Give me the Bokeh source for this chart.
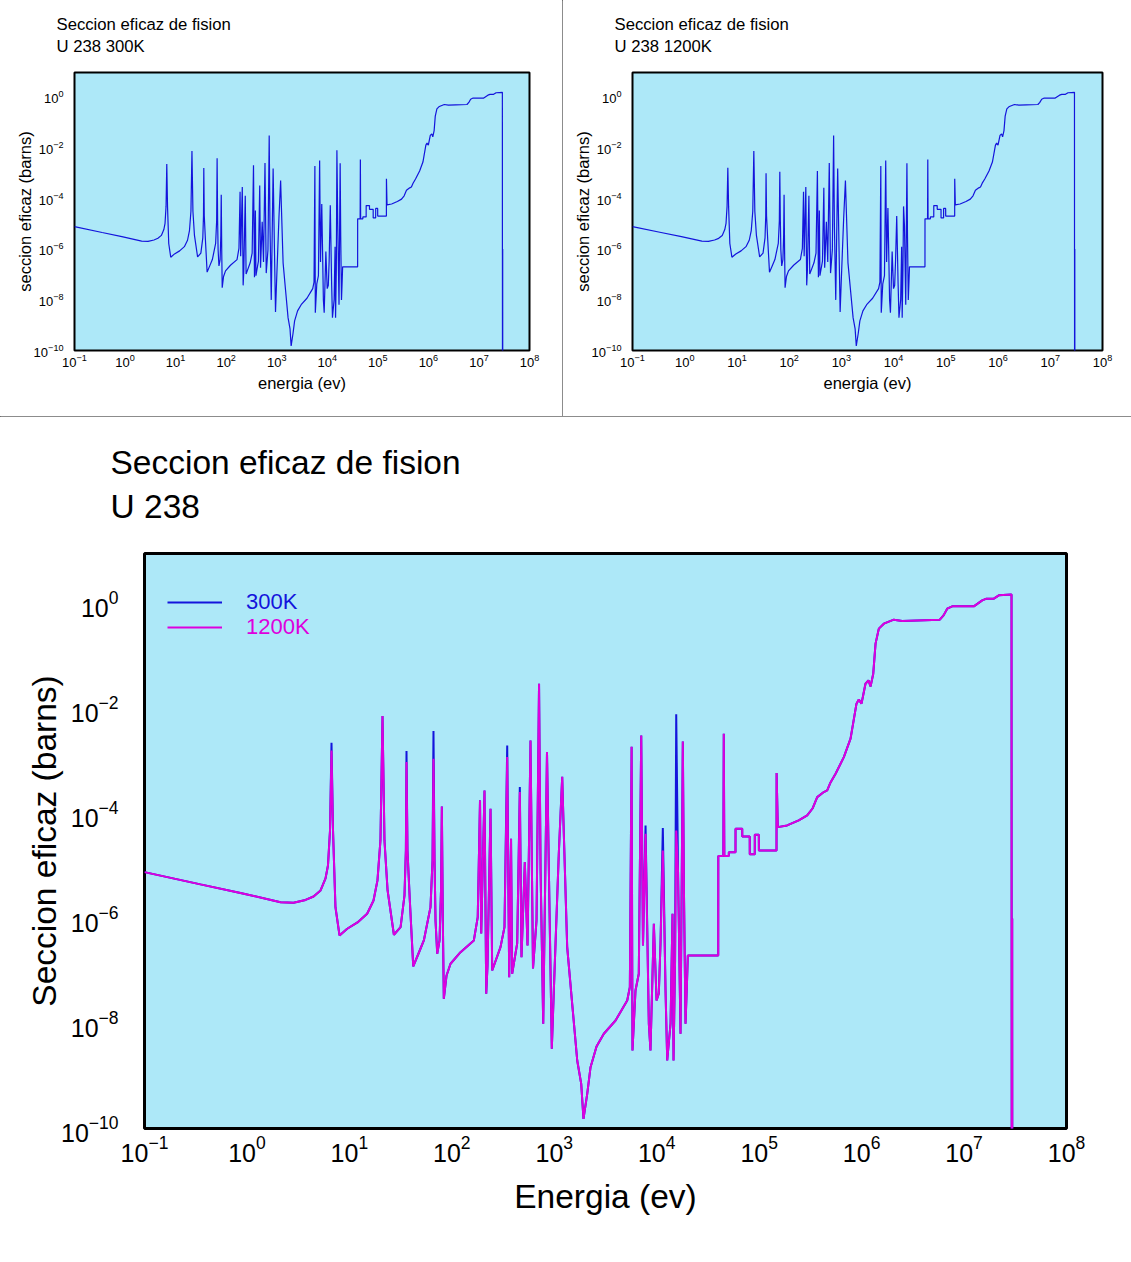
from bokeh.plotting import figure
from bokeh.layouts import column, row
from bokeh.models import FixedTicker, Range1d, Legend, LegendItem
from bokeh.embed import file_html
from bokeh.resources import INLINE

# ---- data: U-238 fission cross section (energy in eV, sigma in barns) ----
energy = [
    0.1, 0.352, 0.865, 2.13, 2.85, 3.73, 4.47, 5.23, 5.85, 6.18, 6.47, 6.69, 6.92, 7.31, 8.01, 9.52,
    12.0, 14.9, 17.2, 18.8, 20.1, 21.05, 22.0, 23.6, 27.2, 31.6, 34.5, 35.6, 36.1, 36.9, 38.9,
    42.0, 47.3, 53.3, 61.9, 64.8, 66.2, 67.8, 69.3, 72.0, 75.9, 78.4, 79.9, 81.7, 83.5, 88.8, 97.1,
    121.6, 164, 179, 188.4, 193.6, 208.4, 216.6, 223, 238.6, 247.7, 298.5, 326.6, 347.2, 363,
    378.4, 388, 434.5, 461, 478.6, 515.8, 548, 586, 620, 671, 710, 735, 780, 812, 849, 889, 946,
    990, 1107, 1195, 1239, 1337, 1496, 1675, 1832, 1928, 2097, 2259, 2585, 3046, 3963, 5152, 5465,
    5686, 5800, 6205, 6683, 7060, 7345, 7780, 8375, 8690, 9376, 9960, 10480, 10890, 11470, 12190,
    12660, 13650, 14260, 14590, 15100, 15500, 16140, 17070, 17980, 18450, 19100, 19700, 20120,
    39850, 39900, 44670, 45140, 45700, 50570, 50600, 58750, 58800, 68320, 68400, 80900, 81000,
    90600, 90700, 99230, 99400, 147700, 148000, 152000, 187300, 243200, 294300, 331700, 368700,
    427600, 461400, 497400, 556800, 670700, 779700, 891300, 939300, 997700, 1.091e6, 1.167e6,
    1.222e6, 1.299e6, 1.368e6, 1.473e6, 1.648e6, 2.063e6, 2.492e6, 3.49e6, 5.80e6, 6.31e6, 6.85e6,
    7.66e6, 1.245e7, 1.504e7, 1.656e7, 1.953e7, 2.186e7, 2.906e7, 2.92e7, 2.95e7, 2.951e7, 2.96e7,
]

sigma_300K = [
    7.62e-6, 4.45e-6, 3.06e-6, 2.04e-6, 1.99e-6, 2.25e-6, 2.62e-6, 3.41e-6, 5.78e-6, 1.02e-5, 4.74e-5, 2.22e-3, 4.74e-5, 1.64e-6, 4.74e-7, 6.37e-7,
    8.40e-7, 1.23e-6, 2.20e-6, 5.30e-6, 3.06e-5, 7.13e-3, 3.06e-5, 3.41e-6, 4.89e-7, 6.82e-7, 2.74e-6, 1.97e-5, 1.54e-3, 1.97e-5, 2.20e-6,
    1.22e-7, 2.15e-7, 3.81e-7, 1.64e-6, 1.27e-5, 3.70e-3, 1.27e-5, 9.16e-7, 2.13e-7, 3.81e-7, 3.41e-6, 1.36e-4, 9.16e-7, 2.95e-8, 8.20e-8, 1.37e-7,
    2.28e-7, 3.81e-7, 1.06e-6, 1.77e-4, 5.18e-7, 2.74e-4, 3.68e-8, 1.27e-7, 1.23e-4, 1.02e-7, 2.84e-7, 6.82e-7, 1.97e-3, 7.62e-8,
    3.30e-5, 8.85e-8, 3.34e-7, 3.17e-4, 1.83e-7, 1.18e-5, 3.06e-7, 2.45e-3, 1.12e-7, 9.16e-7, 2.93e-2, 8.20e-6, 9.86e-9, 2.99e-6, 1.47e-3, 5.30e-6, 3.30e-9,
    4.25e-8, 1.73e-5, 5.00e-4, 4.16e-5, 2.84e-7, 2.37e-8, 1.97e-9, 7.10e-10, 1.52e-10, 4.58e-10, 1.47e-9, 3.65e-9, 6.37e-9, 1.14e-8, 2.74e-8, 4.91e-8,
    1.85e-3, 3.06e-9, 4.25e-8, 8.85e-8, 3.06e-3, 3.06e-7, 5.90e-5, 9.86e-9, 3.06e-9, 7.92e-7, 2.74e-8, 3.72e-8, 3.34e-7, 5.25e-5, 4.25e-8,
    1.97e-9, 1.0e-8, 1.23e-6, 1.97e-9, 1.58e-7, 7.69e-3, 8.20e-6, 6.37e-9, 2.35e-3, 2.99e-6, 9.86e-9, 5.30e-8, 1.97e-7,
    1.97e-7, 1.54e-5, 1.54e-5, 3.30e-3, 1.54e-5, 1.54e-5, 1.83e-5, 1.83e-5, 5.12e-5, 5.12e-5, 3.65e-5, 3.65e-5, 1.66e-5,
    1.66e-5, 3.93e-5, 3.93e-5, 1.97e-5, 1.97e-5, 5.86e-4, 5.48e-5, 5.90e-5, 7.36e-5, 9.16e-5, 1.24e-4, 2.04e-4,
    2.55e-4, 2.74e-4, 3.89e-4, 5.70e-4, 1.18e-3, 2.65e-3, 1.23e-2, 1.47e-2, 1.23e-2, 2.95e-2, 3.41e-2,
    2.62e-2, 4.58e-2, 0.171, 0.330, 0.410, 0.489, 0.460, 0.474, 0.489, 0.590, 0.792,
    0.877, 0.877, 1.14, 1.23, 1.23, 1.42, 1.47, 1e-12, 1.0e-6, 2.74e-8, 1e-12,
]

sigma_1200K = [
    7.62e-6, 4.45e-6, 3.06e-6, 2.04e-6, 1.99e-6, 2.25e-6, 2.62e-6, 3.41e-6, 5.78e-6, 1.02e-5, 4.74e-5, 1.58e-3, 4.74e-5, 1.64e-6, 4.74e-7, 6.37e-7,
    8.40e-7, 1.23e-6, 2.20e-6, 5.30e-6, 3.06e-5, 7.13e-3, 3.06e-5, 3.41e-6, 4.89e-7, 6.82e-7, 2.74e-6, 1.97e-5, 9.48e-4, 1.97e-5, 2.20e-6,
    1.22e-7, 2.15e-7, 3.81e-7, 1.64e-6, 1.27e-5, 1.10e-3, 1.27e-5, 9.16e-7, 2.13e-7, 3.81e-7, 3.41e-6, 1.36e-4, 9.16e-7, 2.95e-8, 8.20e-8, 1.37e-7,
    2.28e-7, 3.81e-7, 1.06e-6, 1.77e-4, 5.18e-7, 2.74e-4, 3.68e-8, 1.27e-7, 1.23e-4, 1.02e-7, 2.84e-7, 6.82e-7, 1.18e-3, 7.62e-8,
    3.30e-5, 8.85e-8, 3.34e-7, 2.55e-4, 1.83e-7, 1.18e-5, 3.06e-7, 2.45e-3, 1.12e-7, 9.16e-7, 2.93e-2, 8.20e-6, 9.86e-9, 2.99e-6, 1.47e-3, 5.30e-6, 3.30e-9,
    4.25e-8, 1.73e-5, 5.00e-4, 4.16e-5, 2.84e-7, 2.37e-8, 1.97e-9, 7.10e-10, 1.52e-10, 4.58e-10, 1.47e-9, 3.65e-9, 6.37e-9, 1.14e-8, 2.74e-8, 4.91e-8,
    1.85e-3, 3.06e-9, 4.25e-8, 8.85e-8, 3.06e-3, 3.06e-7, 4.10e-5, 9.86e-9, 3.06e-9, 7.92e-7, 2.74e-8, 3.72e-8, 3.34e-7, 1.97e-5, 4.25e-8,
    1.97e-9, 1.0e-8, 1.23e-6, 1.97e-9, 1.58e-7, 4.74e-5, 8.20e-6, 6.37e-9, 2.35e-3, 2.99e-6, 9.86e-9, 5.30e-8, 1.97e-7,
    1.97e-7, 1.54e-5, 1.54e-5, 3.30e-3, 1.54e-5, 1.54e-5, 1.83e-5, 1.83e-5, 5.12e-5, 5.12e-5, 3.65e-5, 3.65e-5, 1.66e-5,
    1.66e-5, 3.93e-5, 3.93e-5, 1.97e-5, 1.97e-5, 5.86e-4, 5.48e-5, 5.90e-5, 7.36e-5, 9.16e-5, 1.24e-4, 2.04e-4,
    2.55e-4, 2.74e-4, 3.89e-4, 5.70e-4, 1.18e-3, 2.65e-3, 1.23e-2, 1.47e-2, 1.23e-2, 2.95e-2, 3.41e-2,
    2.62e-2, 4.58e-2, 0.171, 0.330, 0.410, 0.489, 0.460, 0.474, 0.489, 0.590, 0.792,
    0.877, 0.877, 1.14, 1.23, 1.23, 1.42, 1.47, 1e-12, 1.0e-6, 2.74e-8, 1e-12,
]

x_ticks = [1e-1, 1e0, 1e1, 1e2, 1e3, 1e4, 1e5, 1e6, 1e7, 1e8]
y_ticks = [1e-10, 1e-8, 1e-6, 1e-4, 1e-2, 1e0]

FONT = "Liberation Sans"
BG = "#ADE8F8"
BLUE = "#1414DC"
MAG = "#DD00DD"


def style_axes(p, tick_size, label_size, xstand, ystand, xlab_stand, ylab_stand):
    p.grid.visible = False
    for ax in (p.xaxis[0], p.yaxis[0]):
        ax.major_tick_line_color = None
        ax.minor_tick_line_color = None
        ax.axis_line_color = None
        ax.major_label_text_font = FONT
        ax.major_label_text_font_size = tick_size
        ax.major_label_text_color = "black"
        ax.axis_label_text_font = FONT
        ax.axis_label_text_font_size = label_size
        ax.axis_label_text_font_style = "normal"
        ax.axis_label_text_color = "black"
    p.xaxis.ticker = FixedTicker(ticks=x_ticks, minor_ticks=[])
    p.yaxis.ticker = FixedTicker(ticks=y_ticks, minor_ticks=[])
    p.xaxis.major_label_standoff = xstand
    p.yaxis.major_label_standoff = ystand
    p.xaxis.axis_label_standoff = xlab_stand
    p.yaxis.axis_label_standoff = ylab_stand


def style_title(p, text, size, offset, standoff):
    p.title.text = text
    p.title.text_font = FONT
    p.title.text_font_size = size
    p.title.text_font_style = "normal"
    p.title.text_color = "black"
    p.title.text_line_height = 1.2
    p.title.align = "left"
    p.title.vertical_align = "top"
    p.title.offset = offset
    p.title.standoff = standoff


def small_plot(title, sig, width, bl, br, shadow):
    p = figure(width=width, height=416, x_axis_type="log", y_axis_type="log",
               x_range=Range1d(0.1, 1e8), y_range=Range1d(1e-10, 8.9),
               output_backend="svg", toolbar_location=None,
               min_border_left=bl, min_border_right=br, min_border_top=71, min_border_bottom=66,
               background_fill_color=BG, border_fill_color="white",
               outline_line_color="black", outline_line_width=2,
               styles=shadow)
    style_title(p, title, "16.7px", -18, 28)
    p.line(energy, sig, color=BLUE, line_width=1.2)
    p.xaxis.axis_label = "energia (ev)"
    p.yaxis.axis_label = "seccion eficaz (barns)"
    style_axes(p, "13px", "16.5px", -3, 5, 4, -3)
    return p


p1 = small_plot("Seccion eficaz de fision\nU 238 300K", sigma_300K, 562, 74, 33,
                {"box-shadow": "1px 0 0 0 #666, 0 1px 0 0 #666"})
p2 = small_plot("Seccion eficaz de fision\nU 238 1200K", sigma_1200K, 569, 70, 29,
                {"box-shadow": "0 1px 0 0 #666"})

p3 = figure(width=1131, height=845, x_axis_type="log", y_axis_type="log",
            x_range=Range1d(0.1, 1e8), y_range=Range1d(1e-10, 8.9),
            output_backend="svg", toolbar_location=None,
            min_border_left=144, min_border_right=65, min_border_top=137, min_border_bottom=133,
            background_fill_color=BG, border_fill_color="white",
            outline_line_color="black", outline_line_width=3)
style_title(p3, "Seccion eficaz de fision\nU 238", "33.5px", -34, 54)
r300 = p3.line(energy, sigma_300K, color=BLUE, line_width=2)
r1200 = p3.line(energy, sigma_1200K, color=MAG, line_width=2)
p3.xaxis.axis_label = "Energia (ev)"
p3.yaxis.axis_label = "Seccion eficaz (barns)"
style_axes(p3, "25px", "33.5px", 0, 20, 13, -5)

for lab, r, col, yloc in (("300K", r300, BLUE, 513), ("1200K", r1200, MAG, 488)):
    leg = Legend(items=[LegendItem(label=lab, renderers=[r])], location=(23, yloc),
                 padding=0, margin=0, border_line_color=None, background_fill_alpha=0,
                 glyph_width=55, glyph_height=20, label_standoff=24,
                 label_text_font=FONT, label_text_font_size="22px", label_text_color=col)
    p3.add_layout(leg, "center")

layout = column(row(p1, p2), p3)
open("out.html", "w").write(file_html(layout, INLINE))
